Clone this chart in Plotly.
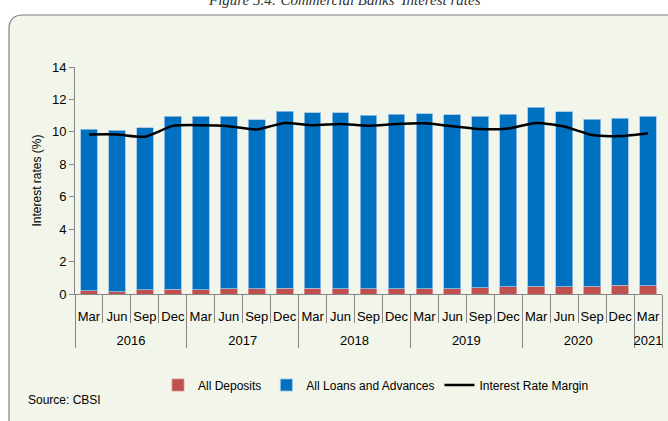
import plotly.graph_objects as go

years = ["2016"] * 4 + ["2017"] * 4 + ["2018"] * 4 + ["2019"] * 4 + ["2020"] * 4 + ["2021"]
months = ["Mar", "Jun", "Sep", "Dec"] * 5 + ["Mar"]

# deposit rates (bottom of stack)
deposits = [0.20, 0.15, 0.27, 0.29, 0.27, 0.31, 0.31, 0.37, 0.37, 0.33, 0.31, 0.31,
            0.31, 0.33, 0.39, 0.45, 0.49, 0.45, 0.49, 0.55, 0.51]
# top of blue bar, loans = top - deposits
bar_tops = [10.15, 10.09, 10.25, 10.97, 10.97, 10.97, 10.76, 11.27, 11.17, 11.17, 11.03, 11.09,
            11.13, 11.05, 10.95, 11.09, 11.52, 11.25, 10.78, 10.84, 10.97]
loans = [round(t - d, 2) for t, d in zip(bar_tops, deposits)]
margin = [9.84, 9.84, 9.70, 10.37, 10.41, 10.35, 10.15, 10.55, 10.41, 10.49, 10.37, 10.49,
          10.53, 10.35, 10.17, 10.21, 10.55, 10.33, 9.80, 9.74, 9.92]

# year labels pushed down one line so they sit below the month row
x = [["<br>" + y for y in years], months]

# pixel layout helpers
L, R, T, B = 75, 6, 67, 127
W, H = 668, 421
pw, ph = W - L - R, H - T - B


def px_x(p):
    return (p - L) / pw


def px_y(p):
    return (H - B - p) / ph


fig = go.Figure()
fig.add_trace(go.Bar(
    x=x, y=deposits, name="All Deposits",
    marker=dict(color="#C0504D", line=dict(color="#D99694", width=0.8))
))
fig.add_trace(go.Bar(
    x=x, y=loans, name="All Loans and Advances",
    marker=dict(color="#0070C0", line=dict(color="#9DC3E6", width=0.8))
))
fig.add_trace(go.Scatter(
    x=x, y=margin, name="Interest Rate Margin", mode="lines",
    line=dict(color="black", width=2.5, shape="spline", smoothing=0.6)
))

# rounded background panel
x0, x1 = px_x(9), px_x(690)
y0, y1 = px_y(15), px_y(440)
rx, ry = 14 / pw, 14 / ph
path = (f"M {x0 + rx},{y0} L {x1},{y0} L {x1},{y1} L {x0 + rx},{y1} "
        f"Q {x0},{y1} {x0},{y1 + ry} L {x0},{y0 - ry} Q {x0},{y0} {x0 + rx},{y0} Z")
fig.add_shape(type="path", path=path, xref="paper", yref="paper",
              fillcolor="#F2F5E9", line=dict(color="#7F7F7F", width=1.2), layer="below")

fig.add_annotation(text="<i>Figure 5.4: Commercial Banks' Interest rates</i>",
                   x=px_x(344), y=px_y(10), xref="paper", yref="paper",
                   xanchor="center", yanchor="bottom", showarrow=False,
                   font=dict(family="Liberation Serif", size=15, color="#333333"))
fig.add_annotation(text="Source: CBSI", x=px_x(26), y=px_y(400), xref="paper", yref="paper",
                   xanchor="left", yanchor="middle", showarrow=False,
                   font=dict(size=12, color="black"))

fig.update_layout(
    width=W, height=H,
    margin=dict(l=L, r=R, t=T, b=B),
    paper_bgcolor="white", plot_bgcolor="rgba(0,0,0,0)",
    barmode="stack", bargap=0.4,
    font=dict(family="Liberation Sans", size=13, color="black"),
    legend=dict(orientation="h", x=px_x(376), y=px_y(385), xanchor="center", yanchor="middle",
                font=dict(size=12), bgcolor="rgba(0,0,0,0)", traceorder="normal"),
    yaxis=dict(range=[0, 14], dtick=2, showgrid=False, showline=True, linecolor="#868686",
               ticks="outside", ticklen=5, tickcolor="#868686", zeroline=False,
               title=dict(text="Interest rates (%)", font=dict(size=12), standoff=7)),
    xaxis=dict(type="multicategory", showgrid=False, showline=True, linecolor="#868686",
               ticks="outside", tickson="boundaries", ticklen=28, tickcolor="#868686",
               tickangle=0, tickfont=dict(size=13), ticklabelstandoff=10,
               showdividers=True, dividercolor="#868686", dividerwidth=1),
)

fig.write_html("out.html", config={"displayModeBar": False},
               post_script="document.body.style.margin='0';")
